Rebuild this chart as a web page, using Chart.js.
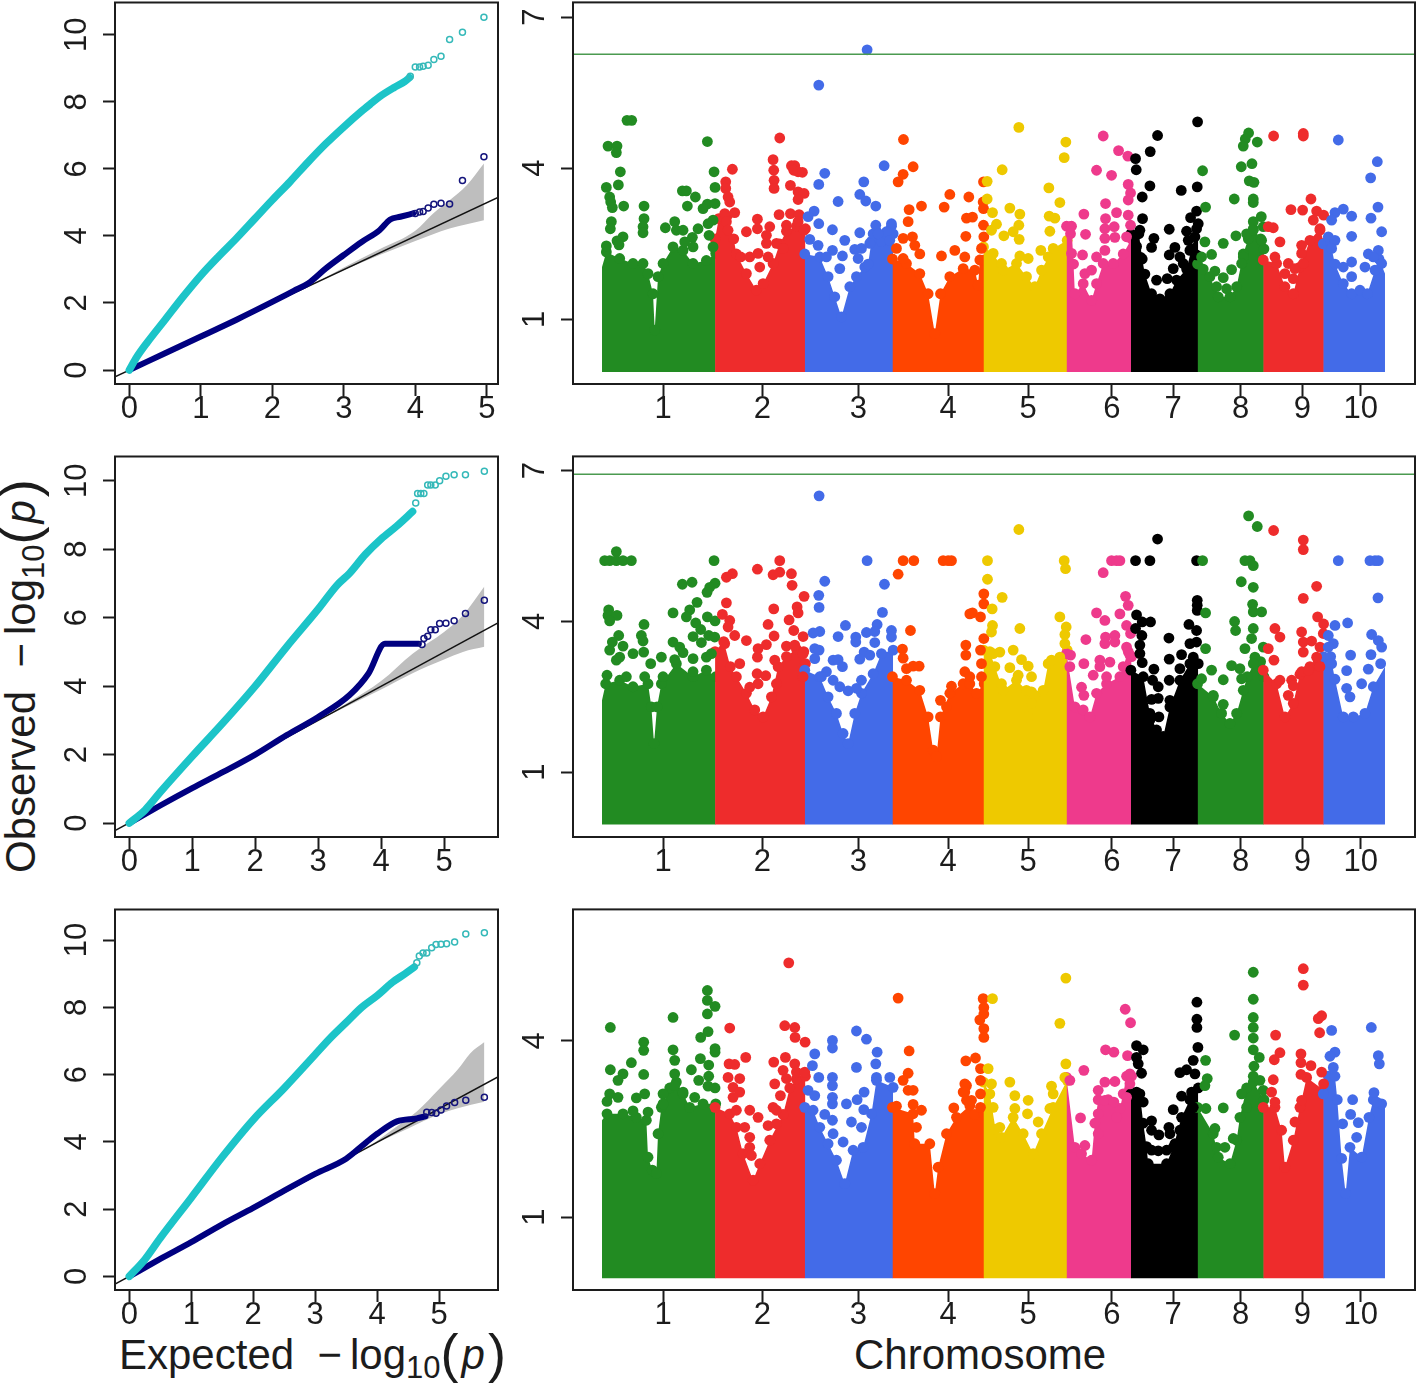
<!DOCTYPE html>
<html>
<head>
<meta charset="utf-8">
<title>QQ and Manhattan plots</title>
<script src="https://cdn.jsdelivr.net/npm/chart.js@4"></script>
<style>
  html, body { margin: 0; padding: 0; background: #fff; }
  #page { position: relative; width: 1418px; height: 1385px; overflow: hidden; }
  canvas { position: absolute; }
  .label { position: absolute; font-family: "Liberation Sans", Arial, sans-serif; font-size: 42px; line-height: 48px; color: #1c1c1c; white-space: nowrap; }
  .label sub { font-size: 31px; line-height: 0; vertical-align: -9px; }
  .label .minus { margin-right: 8px; }
  .label .paren { font-size: 54px; font-weight: 300; line-height: 0; vertical-align: -3px; }
  .label i { font-family: "Liberation Sans", Arial, sans-serif; margin: 0 3px; }
</style>
</head>
<body>
<div id="page">
  <div class="label" id="obs">Observed&nbsp;&nbsp;<span class="minus">&minus;</span>log<sub>10</sub><span class="paren">(</span><i>p</i><span class="paren">)</span></div>
  <div class="label" id="exp">Expected&nbsp;&nbsp;<span class="minus">&minus;</span>log<sub>10</sub><span class="paren">(</span><i>p</i><span class="paren">)</span></div>
  <div class="label" id="chrom">Chromosome</div>
</div>
<script>
// x position on the Manhattan panels is cumulative along the genome
const chromStarts = [0, 341, 610, 873, 1146, 1395, 1588, 1788, 1985, 2165];
const chromTicks = [183, 481, 769, 1038, 1278, 1529, 1713, 1915, 2100, 2275];
const chromLabels = ['1', '2', '3', '4', '5', '6', '7', '8', '9', '10'];
const chromColors = ['#228B22', '#EE2C2C', '#436BE8', '#FF4500', '#EEC900', '#EE3A8C', '#000000', '#228B22', '#EE2C2C', '#436BE8'];

const qqYTicks = [0, 2, 4, 6, 8, 10];
const qqXTicks = [0, 1, 2, 3, 4, 5];
const row1YTicks = [1, 4, 7];
const row3YTicks = [1, 4];

// QQ panel 1
const qq1Cyan = [[0,0],[0.1,0.37],[0.25,0.82],[0.5,1.5],[0.75,2.18],[1,2.82],[1.25,3.39],[1.5,3.93],[1.75,4.5],[2,5.07],[2.25,5.62],[2.5,6.2],[2.75,6.75],[3,7.25],[3.25,7.72],[3.4,7.98],[3.5,8.15],[3.7,8.42],[3.85,8.6],[3.92,8.72]];
const qq1CyanTail = [[3.93,8.76],[4,9.04],[4.06,9.04],[4.11,9.06],[4.18,9.09],[4.26,9.26],[4.36,9.36],[4.48,9.86],[4.66,10.07],[4.96,10.52]];
const qq1Navy = [[0,0],[0.5,0.5],[1,1],[1.5,1.5],[2,2.03],[2.3,2.36],[2.5,2.58],[2.75,3.03],[3,3.43],[3.25,3.82],[3.5,4.17],[3.65,4.49],[3.79,4.57],[3.97,4.67]];
const qq1NavyTail = [[4,4.67],[4.06,4.71],[4.11,4.73],[4.18,4.83],[4.26,4.94],[4.36,4.97],[4.48,4.95],[4.66,5.65],[4.96,6.36]];
const qq1Upper = [[2.6,2.6],[3,3.06],[3.5,3.6],[4,4.15],[4.25,4.67],[4.48,5.06],[4.72,5.51],[4.96,6.16]];
const qq1Lower = [[2.6,2.6],[3,2.98],[3.5,3.43],[4,3.85],[4.48,4.22],[4.96,4.47]];
const qq1Ref = [[-0.2,-0.2],[5.157,5.145]];

// QQ panel 2
const qq2Cyan = [[0,0],[0.25,0.38],[0.5,0.92],[1,1.95],[1.5,2.95],[2,4],[2.5,5.15],[3,6.25],[3.3,6.95],[3.5,7.3],[3.75,7.85],[4,8.3],[4.25,8.68],[4.5,9.1]];
const qq2CyanTail = [[4.55,9.35],[4.58,9.63],[4.63,9.63],[4.68,9.63],[4.74,9.88],[4.79,9.88],[4.86,9.88],[4.93,10],[5.03,10.13],[5.16,10.18],[5.34,10.18],[5.64,10.28]];
const qq2Navy = [[0,0],[0.5,0.52],[1,1.02],[1.5,1.5],[2,2],[2.5,2.57],[3,3.1],[3.5,3.74],[3.8,4.37],[4.06,5.24],[4.6,5.24]];
const qq2NavyTail = [[4.65,5.22],[4.68,5.39],[4.74,5.46],[4.79,5.65],[4.86,5.65],[4.93,5.83],[5.03,5.84],[5.16,5.91],[5.34,6.12],[5.64,6.51]];
const qq2Upper = [[3,3],[3.5,3.55],[4,4.15],[4.5,4.95],[5,5.58],[5.3,6.07],[5.64,6.91]];
const qq2Lower = [[3,3],[3.5,3.45],[4,3.9],[4.5,4.38],[5,4.78],[5.3,5],[5.64,5.15]];
const qq2Ref = [[-0.228,-0.22],[5.85,5.84]];

// QQ panel 3
const qq3Cyan = [[0,0],[0.25,0.5],[0.5,1.14],[1,2.34],[1.5,3.55],[2,4.66],[2.5,5.6],[3,6.6],[3.25,7.1],[3.5,7.55],[3.75,8],[4,8.35],[4.25,8.75],[4.45,9],[4.6,9.2]];
const qq3CyanTail = [[4.64,9.33],[4.68,9.53],[4.74,9.62],[4.8,9.62],[4.88,9.77],[4.95,9.87],[5.03,9.88],[5.12,9.89],[5.25,9.94],[5.43,10.18],[5.73,10.22]];
const qq3Navy = [[0,0],[0.5,0.52],[1,1.02],[1.5,1.55],[2,2.04],[2.5,2.55],[3,3.05],[3.5,3.5],[3.82,3.98],[4,4.24],[4.32,4.61],[4.64,4.7],[4.78,4.76]];
const qq3NavyTail = [[4.8,4.88],[4.88,4.87],[4.95,4.85],[5.03,4.95],[5.12,5.07],[5.25,5.17],[5.43,5.24],[5.73,5.33]];
const qq3Upper = [[3.9,3.9],[4.5,4.7],[4.64,4.9],[5,5.57],[5.3,6.15],[5.5,6.63],[5.73,6.97]];
const qq3Lower = [[3.9,3.9],[4.5,4.4],[5,4.82],[5.3,5],[5.73,5.19]];
const qq3Ref = [[-0.231,-0.23],[5.96,5.94]];

// Manhattan row 1: solid body per chromosome, then the separate dots
const row1Mass = [
  [[0,2.04],[13,2.34],[53,2.21],[93,2.11],[123,2.11],[138,1.91],[153,1.51],[158,0.79],[168,1.85],[183,2.11],[213,2.44],[243,2.37],[273,2.11],[313,2.17],[341,2.31]],
  [[341,2.6],[350,3],[375,3.05],[395,2.6],[403,2.3],[433,1.91],[463,1.58],[483,1.71],[513,2.11],[533,2.5],[553,2.75],[583,2.85],[610,2.8]],
  [[610,2.3],[653,2.24],[678,1.85],[698,1.45],[718,1.05],[743,1.65],[763,1.85],[788,2.04],[798,2.1],[808,2.55],[823,2.75],[838,2.55],[850,2.7],[868,2.85],[873,2.7]],
  [[873,2.2],[913,2.11],[953,1.91],[978,1.51],[998,0.72],[1015,1.51],[1043,1.85],[1083,2.01],[1118,1.98],[1128,1.68],[1133,2.18],[1146,2.18]],
  [[1146,2.44],[1173,2.31],[1203,1.98],[1243,2.11],[1273,1.85],[1298,1.65],[1318,1.98],[1353,2.41],[1395,2.57]],
  [[1395,2.85],[1408,2.85],[1414,2.1],[1418,1.51],[1443,1.71],[1468,1.38],[1483,1.71],[1503,2.11],[1533,2.11],[1563,2.3],[1588,2.6]],
  [[1588,2.7],[1610,2.7],[1620,2.2],[1628,1.9],[1648,1.51],[1673,1.41],[1703,1.51],[1723,1.78],[1753,2],[1768,2.4],[1788,2.9]],
  [[1788,2.1],[1803,2],[1823,1.85],[1848,1.45],[1883,1.45],[1903,1.65],[1923,2.3],[1938,2.6],[1953,2.8],[1975,2.6],[1985,2.4]],
  [[1985,2.18],[2023,2.11],[2048,1.65],[2073,1.51],[2093,2.04],[2123,2.57],[2153,2.8],[2165,2.51]],
  [[2165,2.5],[2185,2.5],[2198,2.1],[2223,1.71],[2248,1.51],[2273,1.58],[2295,1.51],[2318,1.98],[2330,2.2],[2348,1.91]]
];
const row1Peaks = [[18,4.44],[45,4.44],[43,4.31],[55,3.93],[49,3.67],[13,3.62],[23,3.43],[26,3.33],[31,3.22],[65,3.25],[126,3.25],[126,3],[75,4.95],[89,4.95],[123,2.84],[123,2.72],[28,2.94],[25,2.8],[63,2.64],[45,2.56],[51,2.48],[13,2.46],[316,4.53],[336,3.93],[339,3.62],[241,3.55],[253,3.55],[280,3.43],[256,3.25],[316,3.29],[303,3.2],[339,3.3],[190,2.82],[218,2.94],[223,2.77],[243,2.77],[288,2.8],[333,2.97],[318,2.9],[321,2.67],[271,2.63],[273,2.44],[333,2.44],[248,2.54],
[391,3.98],[371,3.73],[371,3.6],[378,3.43],[383,3.33],[398,3.12],[368,3.1],[373,2.94],[378,2.77],[433,2.74],[466,2.99],[466,2.8],[503,2.84],[493,2.67],[493,2.51],[533,4.6],[513,4.17],[515,3.96],[516,3.76],[516,3.6],[568,4.05],[578,4.05],[575,3.96],[588,3.93],[601,3.92],[565,3.66],[588,3.53],[606,3.5],[588,3.38],[531,3.08],[565,3.1],[591,3.08],[588,2.94],[553,2.87],[606,2.77],[523,2.51],[543,2.41],[416,2.24],[443,2.24],[468,2.31],[498,2.24],[473,2.04],
[795,6.35],[650,5.65],[668,3.9],[650,3.68],[708,3.34],[785,3.73],[773,3.48],[791,3.35],[821,3.25],[846,4.05],[636,3.15],[618,3.04],[650,2.9],[691,2.78],[773,2.72],[728,2.57],[623,2.59],[648,2.47],[691,2.37],[721,2.26],[758,2.39],[778,2.41],[821,2.87],[868,2.9],[853,2.74],[813,2.7],[863,2.57],[713,2.01],[768,2.21],[673,2.24],[803,2.51],[828,2.7],
[904,4.57],[933,4.03],[903,3.88],[888,3.73],[1043,3.48],[1100,3.43],[958,3.25],[921,3.18],[1026,3.23],[918,2.94],[1093,3.01],[903,2.61],[931,2.64],[1091,2.65],[938,2.47],[883,2.41],[953,2.3],[1018,2.26],[1058,2.37],[1088,2.24],[903,2.21],[1111,3.03],[1144,3.73],[1143,3.33],[1144,3.2],[1144,2.87],[1145,2.64],[1138,2.41],
[1250,4.81],[1391,4.52],[1386,4.21],[1200,3.97],[1155,3.74],[1340,3.61],[1373,3.32],[1155,3.39],[1171,3.12],[1223,3.21],[1253,3.09],[1250,2.87],[1341,3.05],[1358,3.01],[1343,2.75],[1183,2.89],[1168,2.77],[1205,2.66],[1233,2.74],[1251,2.59],[1316,2.37],[1253,2.26],[1278,2.21],[1198,2.11],[1338,2.24],
[1503,4.64],[1549,4.35],[1577,4.24],[1483,3.96],[1528,3.86],[1578,3.68],[1585,3.51],[1578,3.37],[1510,3.3],[1445,3.09],[1543,3.12],[1578,3.07],[1510,3],[1405,2.84],[1405,2.7],[1450,2.69],[1508,2.8],[1536,2.84],[1508,2.61],[1573,2.64],[1538,2.63],[1585,2.87],[1441,2.28],[1508,2.37],[1483,2.24],[1448,1.91],[1468,1.98],[1408,2.31],
[1786,4.92],[1666,4.65],[1644,4.33],[1600,4.19],[1602,3.97],[1643,3.65],[1785,3.63],[1737,3.56],[1620,3.43],[1783,3.15],[1621,3],[1765,3.02],[1613,2.77],[1701,2.79],[1753,2.75],[1783,2.8],[1655,2.61],[1758,2.57],[1778,2.64],[1603,2.45],[1648,2.43],[1718,2.43],[1763,2.37],[1616,2.23],[1701,2.28],[1733,2.24],[1783,2.28],[1713,2.01],[1743,2.11],[1663,1.78],[1603,2.04],[1695,1.81],
[1939,4.7],[1929,4.58],[1923,4.44],[1965,4.52],[1917,4.03],[1949,4.09],[1801,3.95],[1941,3.75],[1955,3.72],[1896,3.39],[1953,3.39],[1953,3.32],[1810,3.23],[1977,3.04],[1953,2.94],[1983,2.84],[1901,2.66],[1808,2.54],[1863,2.51],[1828,2.29],[1798,2.24],[1888,1.99],[1923,2.24],[1918,2.11],[1863,1.83],[1838,1.96],[1843,1.65],[1873,1.61],[1933,2.7],[1953,2.77],[1978,2.57],
[2014,4.64],[2103,4.69],[2103,4.64],[2126,3.39],[2066,3.18],[2101,3.17],[2143,3.15],[2164,3.07],[2133,2.97],[2013,2.82],[1998,2.84],[2153,2.77],[2033,2.54],[2098,2.47],[2098,2.31],[2018,2.24],[2058,2.11],[2078,2.01],[2048,1.91],[2073,1.81],[2103,2.11],
[2208,4.56],[2325,4.13],[2305,3.81],[2327,3.23],[2223,3.19],[2248,3.05],[2306,3.01],[2338,2.74],[2198,3.12],[2188,2.97],[2248,2.65],[2178,2.64],[2198,2.57],[2188,2.41],[2298,2.3],[2328,2.37],[2338,2.11],[2248,2.14],[2288,2.04],[2223,2.04],[2248,1.85],[2313,2.24]];
const row1Threshold = 6.26;

// Manhattan row 2
const row2Mass = [
  [[0,2.43],[11,2.76],[53,2.83],[93,2.7],[138,2.76],[148,2.3],[156,1.57],[165,2.3],[178,2.76],[223,3.16],[273,2.9],[313,3.03],[341,2.9]],
  [[341,3.4],[365,3.6],[385,3.1],[403,2.9],[433,2.57],[458,2.24],[483,2.1],[508,2.5],[528,3.1],[553,3.3],[583,3.45],[605,3.4],[610,3.16]],
  [[610,3.03],[653,2.9],[678,2.5],[703,2.17],[723,1.77],[738,1.57],[758,2.17],[778,2.57],[813,2.96],[838,3.36],[873,3.43]],
  [[873,2.9],[913,2.83],[953,2.63],[978,2.1],[993,1.44],[1003,1.31],[1015,2.1],[1043,2.57],[1083,2.76],[1103,2.76],[1123,2.57],[1146,2.76]],
  [[1146,3.43],[1163,3.4],[1178,3.1],[1203,2.63],[1243,2.83],[1273,2.63],[1298,2.53],[1323,2.63],[1338,3.16],[1395,3.43]],
  [[1395,3.36],[1418,2.3],[1443,2.24],[1463,2.1],[1483,2.57],[1513,2.76],[1553,2.9],[1563,3.1],[1578,3.4],[1588,3.3]],
  [[1588,3.03],[1623,2.9],[1643,2.17],[1663,1.84],[1683,1.71],[1703,2.3],[1733,2.83],[1763,3.16],[1788,3.16]],
  [[1788,2.76],[1833,2.5],[1858,2.17],[1883,1.97],[1903,2.17],[1923,2.63],[1935,2.9],[1958,3.2],[1975,3.2],[1985,2.9]],
  [[1985,3.03],[2023,2.76],[2048,2.1],[2073,2.37],[2093,2.95],[2123,3.1],[2148,3.2],[2165,3.16]],
  [[2165,3.3],[2185,3.3],[2198,2.85],[2223,2.1],[2253,2.1],[2288,2.17],[2313,2.7],[2348,3.1]]
];
const row2Peaks = [[8,5.21],[23,5.21],[43,5.39],[43,5.21],[63,5.21],[88,5.21],[336,5.21],[20,4.23],[18,4.12],[45,4.12],[23,4.01],[241,4.74],[270,4.78],[339,4.76],[323,4.68],[315,4.58],[285,4.38],[263,4.23],[213,4.17],[253,4.09],[316,4.09],[281,3.97],[339,4.01],[126,3.94],[296,3.84],[50,3.72],[118,3.72],[123,3.61],[273,3.7],[320,3.72],[338,3.69],[31,3.59],[63,3.51],[213,3.59],[233,3.49],[298,3.58],[23,3.43],[93,3.36],[125,3.39],[243,3.38],[178,3.29],[146,3.16],[43,3.23],[218,3.24],[273,3.26],[313,3.29],[53,3.29],[15,2.93],[73,2.9],[128,2.9],[183,2.9],[273,3],[328,3.36],
[533,5.21],[391,4.95],[373,4.88],[466,5.04],[533,4.98],[513,4.93],[568,4.95],[570,4.72],[606,4.5],[373,4.37],[361,4.14],[515,4.25],[585,4.29],[588,4.17],[383,4.02],[561,4.03],[498,3.94],[378,3.89],[575,3.82],[398,3.72],[516,3.71],[603,3.7],[433,3.62],[493,3.54],[468,3.46],[466,3.29],[553,3.51],[578,3.53],[368,3.56],[518,3.23],[413,3.16],[465,2.96],[491,2.92],[468,2.76],[443,2.69],[523,2.76],[603,3.36],[603,2.9],
[651,6.5],[795,5.21],[668,4.8],[847,4.74],[650,4.52],[651,4.28],[841,4.18],[825,3.94],[730,3.92],[653,3.8],[633,3.77],[793,3.78],[818,3.8],[868,3.82],[868,3.69],[708,3.7],[761,3.69],[761,3.59],[818,3.58],[638,3.46],[651,3.43],[786,3.39],[803,3.33],[693,3.23],[708,3.24],[773,3.25],[638,3.26],[721,3.1],[673,3],[693,2.83],[713,2.7],[738,2.62],[763,2.67],[778,2.83],[658,2.9],
[903,5.21],[935,5.21],[1023,5.21],[1038,5.21],[1048,5.21],[888,4.94],[1103,4.15],[925,3.82],[1091,3.53],[1091,3.33],[901,3.45],[903,3.27],[933,3.11],[951,3.11],[1088,3],[913,3.06],[1048,2.71],[1015,2.43],[1033,2.3],[1111,4.17],[1135,4.09],[1145,4.55],[1145,4.35],[1145,3.66],[1135,3.43],[1138,3.16],[1138,2.9],[1103,2.9],
[1250,5.83],[1156,5.21],[1386,5.21],[1390,5.05],[1156,4.84],[1200,4.48],[1170,4.25],[1373,4.09],[1171,3.92],[1253,3.86],[1392,3.89],[1168,3.79],[1388,3.74],[1388,3.56],[1233,3.43],[1193,3.39],[1173,3.36],[1258,3.24],[1278,3.11],[1223,3.08],[1348,3.23],[1373,3.29],[1288,2.9],[1248,2.93],[1288,2.6],[1288,2.37],[1278,2.1],[1198,2.76],
[1503,4.97],[1528,5.21],[1543,5.21],[1553,5.21],[1570,4.5],[1578,4.32],[1483,4.17],[1508,4.02],[1553,4.15],[1573,3.92],[1451,3.64],[1510,3.69],[1538,3.72],[1585,3.76],[1508,3.56],[1538,3.59],[1405,3.33],[1445,3.16],[1493,3.23],[1523,3.19],[1573,3.49],[1583,3.33],[1473,2.93],[1493,3.1],[1438,2.69],[1445,2.53],[1403,3.1],[1513,2.9],
[1666,5.64],[1600,5.21],[1643,5.21],[1783,5.21],[1603,4.13],[1785,4.42],[1785,4.22],[1785,4.32],[1620,3.99],[1645,3.99],[1600,3.86],[1760,3.94],[1783,3.82],[1619,3.72],[1700,3.67],[1613,3.53],[1763,3.56],[1783,3.59],[1613,3.36],[1738,3.34],[1701,3.25],[1620,3.18],[1773,3.29],[1655,3.05],[1733,3.06],[1651,2.83],[1701,2.83],[1668,2.7],[1648,2.45],[1668,2.47],[1703,2.43],[1670,2.1],[1643,2.04],
[1939,6.1],[1965,5.89],[1928,5.21],[1943,5.21],[1953,5.11],[1801,5.21],[1917,4.79],[1953,4.68],[1951,4.34],[1953,4.19],[1978,4.19],[1810,4.17],[1897,4],[1900,3.82],[1953,3.86],[1948,3.66],[1810,3.46],[1928,3.46],[1958,3.29],[1983,3.49],[1953,3.16],[1888,3.12],[1828,3.03],[1798,2.86],[1863,2.84],[1913,3.06],[1918,2.86],[1863,2.35],[1833,2.53],
[2014,5.81],[2103,5.62],[2103,5.43],[2143,4.7],[2103,4.46],[2146,4.09],[2164,3.95],[2018,3.86],[2033,3.69],[2098,3.79],[2163,3.76],[2103,3.59],[2128,3.61],[2103,3.39],[2153,3.49],[1998,3.46],[2015,3.23],[2143,3.29],[2098,3],[2118,3.03],[2068,2.83],[2073,2.72],[2033,2.83],[2153,3.1],[2058,2.53],
[2208,5.21],[2303,5.21],[2318,5.21],[2328,5.21],[2327,4.47],[2236,3.97],[2198,3.92],[2178,3.72],[2193,3.56],[2308,3.74],[2328,3.62],[2338,3.49],[2245,3.33],[2306,3.34],[2188,3.16],[2233,3.02],[2298,3.05],[2335,3.16],[2278,2.76],[2233,2.67],[2243,2.5],[2178,3.49]];
const row2Threshold = 6.93;

// Manhattan row 3
const row3Mass = [
  [[0,2.65],[15,2.76],[63,2.76],[103,2.7],[133,2.65],[138,2.02],[151,1.8],[163,1.74],[168,2.42],[178,2.87],[203,3.2],[223,3.3],[243,3.1],[263,2.87],[303,2.93],[341,2.93]],
  [[341,2.87],[383,2.76],[403,2.53],[423,2.08],[453,1.63],[473,1.91],[503,2.31],[543,2.75],[563,3.2],[583,3.35],[610,3.4]],
  [[610,2.87],[633,2.82],[653,2.53],[678,2.25],[703,1.97],[728,1.57],[753,2.14],[783,2.19],[808,2.76],[823,3.33],[873,3.21]],
  [[873,2.87],[933,2.76],[938,2.25],[983,2.25],[998,1.4],[1008,1.85],[1033,2.42],[1063,2.7],[1103,2.9],[1118,2.75],[1146,2.76]],
  [[1146,3.3],[1163,3.1],[1180,2.5],[1198,2.36],[1233,2.7],[1263,2.42],[1293,2.08],[1318,2.42],[1353,2.87],[1395,3.33]],
  [[1395,3.38],[1418,2.19],[1438,2.08],[1468,1.97],[1478,2.6],[1488,3],[1518,3],[1553,2.85],[1563,3.1],[1573,3.4],[1588,3.4]],
  [[1588,3.1],[1613,3.1],[1623,2.6],[1633,2.2],[1638,1.91],[1693,1.91],[1713,2.19],[1738,2.7],[1763,3],[1788,3.2]],
  [[1788,2.87],[1833,2.42],[1848,2.02],[1883,1.91],[1903,2.31],[1913,2.7],[1933,3.2],[1953,3.3],[1985,3]],
  [[1985,2.87],[2018,2.87],[2038,2.48],[2048,1.85],[2073,2.31],[2093,2.87],[2113,3.38],[2165,3.16]],
  [[2165,3.1],[2178,3.4],[2198,3.4],[2205,3],[2218,2],[2230,1.4],[2243,2.19],[2278,2.02],[2300,2.7],[2313,3],[2348,2.9]]
];
const row3Peaks = [[25,4.23],[213,4.4],[316,4.86],[316,4.69],[339,4.59],[316,4.46],[318,4.16],[296,4.06],[125,3.98],[125,3.84],[213,3.85],[339,3.87],[339,3.81],[295,3.7],[88,3.63],[218,3.67],[320,3.59],[25,3.51],[268,3.51],[125,3.43],[63,3.44],[218,3.44],[320,3.4],[290,3.33],[48,3.33],[318,3.23],[339,3.2],[23,3.1],[128,3.1],[103,3.03],[183,3.1],[218,3.24],[48,3.04],[15,2.97],[278,3.04],[243,3.13],[93,2.81],[138,2.79],[183,2.93],
[560,5.33],[548,4.26],[578,4.23],[383,4.22],[579,4.06],[609,3.98],[431,3.72],[550,3.72],[381,3.61],[398,3.6],[515,3.64],[578,3.61],[543,3.5],[583,3.47],[608,3.47],[378,3.38],[413,3.36],[518,3.27],[553,3.36],[393,3.21],[413,3.13],[535,3.07],[393,3.04],[513,2.87],[523,2.82],[443,2.82],[403,2.82],[468,2.7],[498,2.56],[523,2.59],[428,2.53],[443,2.36],[443,2.19],[448,2.05],
[763,4.17],[793,4.03],[691,4.01],[691,3.88],[638,3.78],[825,3.81],[821,3.61],[631,3.58],[763,3.55],[650,3.38],[691,3.38],[691,3.24],[823,3.38],[863,3.38],[618,3.16],[638,3.07],[786,3.13],[691,3.04],[691,2.93],[765,3],[733,2.93],[785,2.83],[668,2.75],[691,2.65],[748,2.62],[778,2.53],[723,2.28],[693,2.42],
[888,4.73],[921,3.83],[1091,3.66],[918,3.45],[903,3.33],[918,3.16],[933,3.16],[1093,3.24],[1083,3.13],[933,2.92],[883,2.89],[958,2.82],[1055,2.86],[1093,2.99],[943,2.53],[1143,4.72],[1145,4.57],[1145,4.46],[1133,4.36],[1145,4.21],[1145,4.06],[1120,3.71],[1135,3.53],[1088,3.27],[1135,3.33],[1088,3.13],[1108,2.99],[1135,3.1],[1135,2.87],
[1391,5.07],[1171,4.72],[1373,4.3],[1391,3.61],[1158,3.53],[1168,3.27],[1223,3.3],[1348,3.23],[1238,3.07],[1278,2.99],[1388,3.38],[1238,2.85],[1276,2.76],[1353,3.1],[1173,2.87],[1343,2.85],[1308,2.62],[1193,2.53],
[1569,4.54],[1585,4.31],[1510,3.85],[1535,3.81],[1576,3.75],[1445,3.5],[1583,3.44],[1508,3.3],[1538,3.31],[1583,3.27],[1403,3.33],[1488,3.16],[1508,2.99],[1535,2.96],[1435,2.69],[1488,2.76],[1543,2.7],[1573,3.04],[1448,2.22],[1488,2.42],
[1784,4.66],[1784,4.37],[1784,4.23],[1603,3.92],[1623,3.85],[1787,3.89],[1603,3.72],[1608,3.61],[1773,3.67],[1618,3.45],[1733,3.46],[1753,3.51],[1778,3.44],[1603,3.13],[1768,3.13],[1623,2.96],[1738,3.06],[1773,2.87],[1713,2.83],[1648,2.64],[1648,2.48],[1700,2.53],[1670,2.4],[1733,2.48],[1648,2.14],[1668,2.13],[1703,2.42],[1693,2.14],[1718,2.25],
[1953,5.17],[1953,4.71],[1953,4.4],[1953,4.23],[1953,4.05],[1897,4.1],[1953,3.85],[1971,3.72],[1810,3.67],[1955,3.57],[1953,3.4],[1815,3.36],[1808,3.24],[1973,3.33],[1918,3.1],[1983,3.16],[1863,2.86],[1811,2.85],[1838,2.51],[1843,2.19],[1868,2.19],[1893,2.34],[1933,2.87],
[2103,5.23],[2103,4.95],[2158,4.43],[2148,4.38],[2020,4.1],[2152,4.14],[2033,3.8],[2096,3.78],[2016,3.68],[2096,3.63],[2126,3.58],[2158,3.47],[2096,3.43],[2013,3.34],[2164,3.27],[2008,3.13],[2018,2.96],[2098,2.99],[2078,2.62],
[2188,4.18],[2307,4.23],[2328,3.75],[2331,3.61],[2198,3.81],[2183,3.74],[2193,3.55],[2315,3.12],[2251,3],[2245,2.75],[2221,2.59],[2268,2.61],[2263,2.36],[2338,2.93],[2323,2.96]];

const tickFont = { family: '"Liberation Sans", Arial, sans-serif', size: 31 };
const inkColor = '#1c1c1c';
const page = document.getElementById('page');

// the box around every panel
const framePlugin = {
    id: 'frame',
    afterDraw(chart) {
        const { ctx, chartArea: a } = chart;
        ctx.save();
        ctx.strokeStyle = inkColor;
        ctx.lineWidth = 2;
        ctx.strokeRect(a.left, a.top, a.right - a.left, a.bottom - a.top);
        ctx.restore();
    }
};

const toPoints = pairs => pairs.map(p => ({ x: p[0], y: p[1] }));

function chromOf(pos) {
    let i = chromStarts.length - 1;
    while (i > 0 && pos < chromStarts[i]) i--;
    return i;
}

function makeAxis(min, max, tickValues, extra) {
    return Object.assign({
        type: 'linear', min, max,
        afterBuildTicks(scale) { scale.ticks = tickValues.map(value => ({ value })); },
        grid: { drawOnChartArea: false, drawTicks: true, tickLength: 12, tickColor: inkColor, tickWidth: 2 },
        border: { display: false },
    }, extra);
}

// box = the plot rectangle in page pixels, the canvas is grown round it for the axes
function makePanel(box, xAxis, yAxis, datasets, yPad) {
    const leftRoom = 75, bottomRoom = 45, topRoom = 5;
    const canvas = document.createElement('canvas');
    canvas.width = box.r - box.l + leftRoom + 6;
    canvas.height = box.b - box.t + topRoom + bottomRoom;
    canvas.style.left = (box.l - leftRoom) + 'px';
    canvas.style.top = (box.t - topRoom) + 'px';
    page.appendChild(canvas);

    xAxis.afterFit = scale => {
        scale.height = bottomRoom;
        scale.paddingLeft = scale.paddingRight = 0;
    };
    xAxis.ticks = { color: inkColor, font: tickFont, padding: -5, autoSkip: false, maxRotation: 0, minRotation: 0, callback: xAxis.tickText };
    yAxis.afterFit = scale => {
        scale.width = leftRoom;
        scale.paddingTop = scale.paddingBottom = 0;
    };
    yAxis.ticks = { color: inkColor, font: tickFont, padding: yPad, crossAlign: 'center', minRotation: 90, maxRotation: 90, autoSkip: false };

    new Chart(canvas, {
        type: 'scatter',
        data: { datasets },
        options: {
            responsive: false,
            animation: false,
            events: [],
            layout: { padding: { top: topRoom, right: 6, left: 0, bottom: 0 } },
            plugins: { legend: { display: false }, tooltip: { enabled: false } },
            scales: { x: xAxis, y: yAxis }
        },
        plugins: [framePlugin]
    });
}

function qqDatasets(cyan, cyanTail, navy, navyTail, upper, lower, ref) {
    // first dataset is drawn on top
    const thick = (pairs, color, width) => ({
        type: 'line', data: toPoints(pairs), borderColor: color, borderWidth: width,
        pointRadius: 0, cubicInterpolationMode: 'monotone', borderCapStyle: 'round', borderJoinStyle: 'round'
    });
    const tail = (pairs, color) => ({
        data: toPoints(pairs), pointRadius: 3, pointBorderWidth: 1.5,
        pointBackgroundColor: 'rgba(0,0,0,0)', pointBorderColor: color
    });
    return [
        tail(cyanTail, '#35b9b9'),
        tail(navyTail, '#14147c'),
        thick(cyan, '#1cc4c8', 7.5),
        thick(navy, '#000080', 6),
        { type: 'line', data: toPoints(ref), borderColor: '#111111', borderWidth: 1.5, pointRadius: 0 },
        { type: 'line', data: toPoints(upper), borderWidth: 0, pointRadius: 0, cubicInterpolationMode: 'monotone', fill: '+1', backgroundColor: '#bebebe' },
        { type: 'line', data: toPoints(lower), borderWidth: 0, pointRadius: 0, cubicInterpolationMode: 'monotone' }
    ];
}

function manhattanDatasets(mass, peaks, threshold, baseline) {
    const sets = [];
    if (threshold !== null) {
        sets.push({
            type: 'line', data: [{ x: -87, y: threshold }, { x: 2438, y: threshold }],
            borderColor: '#4b9a50', borderWidth: 1.5, pointRadius: 0
        });
    }
    sets.push({
        data: toPoints(peaks), pointRadius: 5.4, pointBorderWidth: 0,
        pointBackgroundColor: peaks.map(p => chromColors[chromOf(p[0])])
    });
    // later chromosomes sit on top of earlier ones
    for (let i = mass.length - 1; i >= 0; i--) {
        const last = mass[i].length - 1;
        const points = toPoints(mass[i]);
        // small overlap so no white seam shows between neighbours
        if (i > 0) points[0].x -= 2;
        sets.push({
            type: 'line', data: points, borderWidth: 0, tension: 0,
            // keep the outer edges of the genome straight
            pointRadius: ctx => ((i === 0 && ctx.dataIndex === 0) || (i === mass.length - 1 && ctx.dataIndex === last)) ? 0 : 5.4,
            pointBorderWidth: 0, pointBackgroundColor: chromColors[i],
            backgroundColor: chromColors[i], fill: { value: baseline }
        });
    }
    return sets;
}

const qqBoxes = [
    { l: 115, r: 498, t: 2, b: 384 },
    { l: 115, r: 498, t: 456, b: 837 },
    { l: 115, r: 498, t: 909, b: 1290 }
];
const manBoxes = [
    { l: 573, r: 1415, t: 2, b: 384 },
    { l: 573, r: 1415, t: 456, b: 837 },
    { l: 573, r: 1415, t: 909, b: 1290 }
];
const chromAxis = () => makeAxis(-87, 2438, chromTicks, { tickText: (v, i) => chromLabels[i] });

makePanel(qqBoxes[0], makeAxis(-0.2, 5.157, qqXTicks), makeAxis(-0.417, 10.96, qqYTicks),
    qqDatasets(qq1Cyan, qq1CyanTail, qq1Navy, qq1NavyTail, qq1Upper, qq1Lower, qq1Ref), 8);
makePanel(qqBoxes[1], makeAxis(-0.227, 5.857, qqXTicks), makeAxis(-0.408, 10.71, qqYTicks),
    qqDatasets(qq2Cyan, qq2CyanTail, qq2Navy, qq2NavyTail, qq2Upper, qq2Lower, qq2Ref), 8);
makePanel(qqBoxes[2], makeAxis(-0.231, 5.95, qqXTicks), makeAxis(-0.405, 10.91, qqYTicks),
    qqDatasets(qq3Cyan, qq3CyanTail, qq3Navy, qq3NavyTail, qq3Upper, qq3Lower, qq3Ref), 8);

makePanel(manBoxes[0], chromAxis(), makeAxis(-0.28, 7.29, row1YTicks),
    manhattanDatasets(row1Mass, row1Peaks, row1Threshold, -0.04), 17);
makePanel(manBoxes[1], chromAxis(), makeAxis(-0.29, 7.285, row1YTicks),
    manhattanDatasets(row2Mass, row2Peaks, row2Threshold, -0.04), 17);
makePanel(manBoxes[2], chromAxis(), makeAxis(-0.24, 6.24, row3YTicks),
    manhattanDatasets(row3Mass, row3Peaks, null, -0.04), 17);

// axis titles are plain text laid over the panels
const obs = document.getElementById('obs');
obs.style.left = '0px';
obs.style.top = '0px';
obs.style.transformOrigin = '0 0';
obs.style.transform = 'translate(-3px, 873px) rotate(-90deg)';
const exp = document.getElementById('exp');
exp.style.left = '119px';
exp.style.top = '1331px';
const chrom = document.getElementById('chrom');
chrom.style.left = '854px';
chrom.style.top = '1331px';
</script>
</body>
</html>
